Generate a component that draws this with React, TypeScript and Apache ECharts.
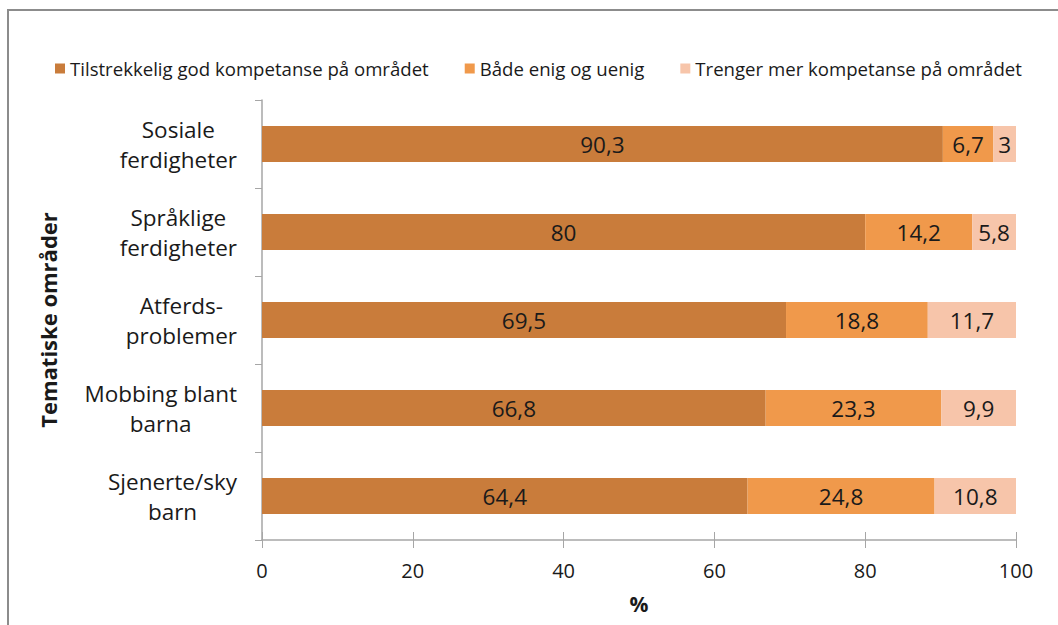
import React, { useEffect, useRef } from "react";
import * as echarts from "echarts";

const categories = ["Sosiale\nferdigheter", "Språklige\nferdigheter", "Atferds-\nproblemer", "Mobbing blant\nbarna", "Sjenerte/sky\nbarn"];
const seriesNames = ["Tilstrekkelig god kompetanse på området", "Både enig og uenig", "Trenger mer kompetanse på området"];
const good = [90.3, 80, 69.5, 66.8, 64.4];
const both = [6.7, 14.2, 18.8, 23.3, 24.8];
const need = [3, 5.8, 11.7, 9.9, 10.8];
const xTicks = [0, 20, 40, 60, 80, 100];
const colors = ["#C97C3B", "#F0994B", "#F7C5AA"];

const FONT = "'Open Sans', 'Noto Sans', sans-serif";
const CAT_SIZE = 22.5;

function measure(text: string, size: number): number {
  const c = document.createElement("canvas");
  const ctx = c.getContext("2d")!;
  ctx.font = `${size}px 'Open Sans'`;
  return ctx.measureText(text).width;
}

export default function App() {
  const ref = useRef<HTMLDivElement>(null);
  useEffect(() => {
    document.body.style.margin = "0";
    const chart = echarts.init(ref.current!, null, { renderer: "svg" });
    const rich: Record<string, any> = {};
    categories.forEach((cat, i) => {
      const w = Math.max(...cat.split("\n").map((l) => measure(l, CAT_SIZE))) + 2;
      rich["c" + i] = {
        width: w,
        align: "center",
        fontSize: CAT_SIZE,
        lineHeight: 30,
        color: "#1a1a1a",
        fontFamily: FONT,
      };
    });
    const fmt = (p: any) => String(p.value).replace(".", ",");
    const mk = (name: string, data: number[], color: string) => ({
      name,
      type: "bar",
      stack: "total",
      data,
      barWidth: 36,
      itemStyle: { color },
      label: {
        show: true,
        position: "inside",
        formatter: fmt,
        color: "#1a1a1a",
        fontSize: 22.5,
        fontFamily: FONT,
      },
    });
    chart.setOption({
      animation: false,
      backgroundColor: "#ffffff",
      textStyle: { fontFamily: FONT },
      graphic: [
        {
          type: "rect",
          shape: { x: 8, y: 10, width: 1200, height: 800 },
          style: { fill: "none", stroke: "#8c8c8c", lineWidth: 2 },
          silent: true,
        },
      ],
      legend: {
        left: 50,
        top: 54,
        itemWidth: 10,
        itemHeight: 10,
        itemGap: 36,
        icon: "rect",
        textStyle: { fontSize: 18.6, color: "#1a1a1a", fontFamily: FONT },
        data: seriesNames,
      },
      grid: { left: 262, right: 42, top: 100, bottom: 85, containLabel: false },
      xAxis: [
        {
          type: "value",
          min: 0,
          max: 100,
          interval: 20,
          name: "%",
          nameLocation: "middle",
          nameGap: 53,
          nameTextStyle: { fontSize: 21, fontWeight: "bold", color: "#1a1a1a", fontFamily: FONT },
          axisLine: { show: true, lineStyle: { color: "#a6a6a6", width: 1.5 } },
          axisTick: { show: true, length: 8, lineStyle: { color: "#a6a6a6" } },
          axisLabel: {
            fontSize: 20,
            color: "#1a1a1a",
            margin: 20,
            formatter: (v: number) => (xTicks.includes(v) ? String(v) : ""),
          },
          splitLine: { show: false },
        },
        {
          type: "value",
          min: 0,
          max: 100,
          interval: 20,
          position: "bottom",
          axisLine: { show: false },
          axisTick: { show: true, inside: true, length: 8, lineStyle: { color: "#a6a6a6" } },
          axisLabel: { show: false },
          splitLine: { show: false },
        },
      ],
      yAxis: {
        type: "category",
        inverse: true,
        data: categories,
        name: "Tematiske områder",
        nameLocation: "middle",
        nameRotate: 90,
        nameGap: 203,
        nameTextStyle: { fontSize: 22, fontWeight: "bold", color: "#1a1a1a", fontFamily: FONT },
        axisLine: { show: true, lineStyle: { color: "#a6a6a6", width: 1.5 } },
        axisTick: { show: true, length: 7, lineStyle: { color: "#a6a6a6" } },
        axisLabel: {
          align: "right",
          margin: 24,
          formatter: (value: string, index: number) =>
            value
              .split("\n")
              .map((l) => `{c${index}|${l}}`)
              .join("\n"),
          rich,
        },
      },
      series: [
        mk(seriesNames[0], good, colors[0]),
        mk(seriesNames[1], both, colors[1]),
        mk(seriesNames[2], need, colors[2]),
      ],
    });
    return () => chart.dispose();
  }, []);
  return <div ref={ref} style={{ width: 1058, height: 625 }} />;
}
